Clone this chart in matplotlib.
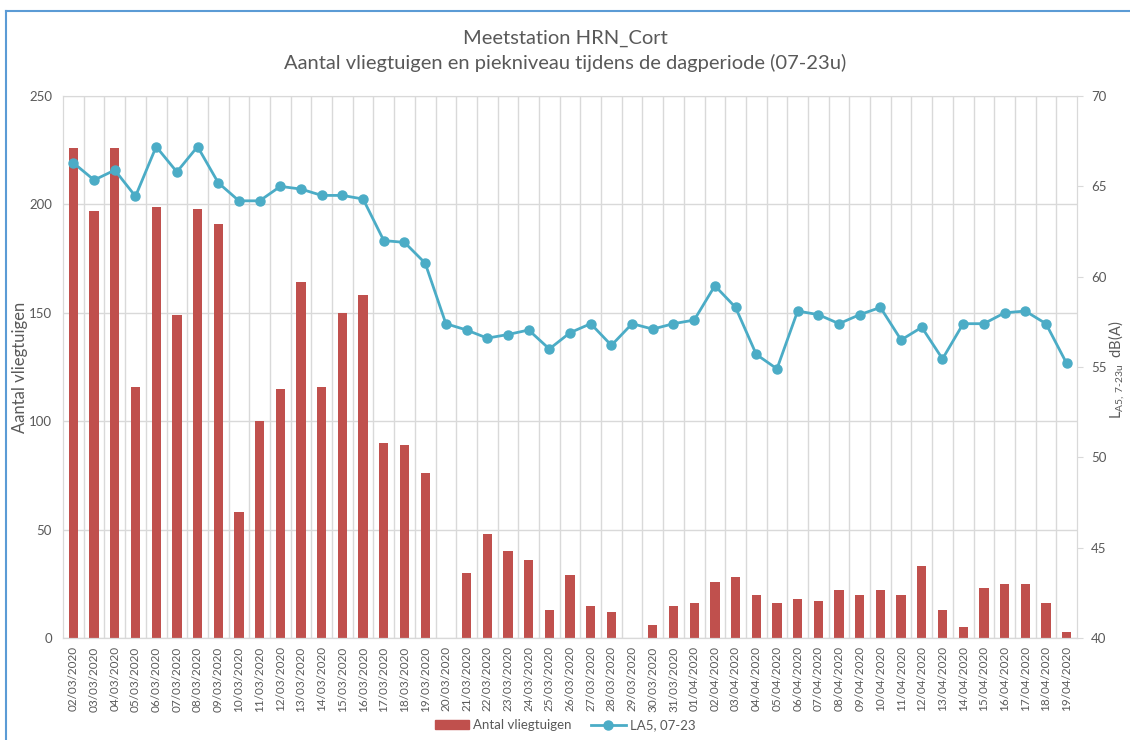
#!/usr/bin/env python3
"""
Meetstation HRN_Cort: aantal vliegtuigen (staven) en LA5 piekniveau (lijn)
tijdens de dagperiode, 02/03/2020 - 19/04/2020.
"""
import matplotlib
matplotlib.use("Agg")
import matplotlib.pyplot as plt
from matplotlib.lines import Line2D

plt.rcParams["font.family"] = ["Lato", "DejaVu Sans"]
plt.rcParams["mathtext.fontset"] = "custom"
plt.rcParams["mathtext.rm"] = "Lato"

# data
dates = ["02/03/2020", "03/03/2020", "04/03/2020", "05/03/2020", "06/03/2020",
         "07/03/2020", "08/03/2020", "09/03/2020", "10/03/2020", "11/03/2020",
         "12/03/2020", "13/03/2020", "14/03/2020", "15/03/2020", "16/03/2020",
         "17/03/2020", "18/03/2020", "19/03/2020", "20/03/2020", "21/03/2020",
         "22/03/2020", "23/03/2020", "24/03/2020", "25/03/2020", "26/03/2020",
         "27/03/2020", "28/03/2020", "29/03/2020", "30/03/2020", "31/03/2020",
         "01/04/2020", "02/04/2020", "03/04/2020", "04/04/2020", "05/04/2020",
         "06/04/2020", "07/04/2020", "08/04/2020", "09/04/2020", "10/04/2020",
         "11/04/2020", "12/04/2020", "13/04/2020", "14/04/2020", "15/04/2020",
         "16/04/2020", "17/04/2020", "18/04/2020", "19/04/2020"]

aantal = [226, 197, 226, 116, 199, 149, 198, 191, 58, 100,
          115, 164, 116, 150, 158, 90, 89, 76, 0, 30,
          48, 40, 36, 13, 29, 15, 12, 0, 6, 15,
          16, 26, 28, 20, 16, 18, 17, 22, 20, 22,
          20, 33, 13, 5, 23, 25, 25, 16, 3]

la5 = [66.3, 65.35, 65.9, 64.45, 67.2, 65.8, 67.2, 65.2, 64.2, 64.2,
       65.0, 64.85, 64.5, 64.5, 64.3, 62.0, 61.9, 60.75, 57.4, 57.05,
       56.6, 56.8, 57.05, 56.0, 56.9, 57.4, 56.2, 57.4, 57.1, 57.4,
       57.6, 59.5, 58.3, 55.7, 54.9, 58.1, 57.9, 57.4, 57.9, 58.3,
       56.5, 57.2, 55.45, 57.4, 57.4, 58.0, 58.1, 57.4, 55.2]

left_ticks = [0, 50, 100, 150, 200, 250]
right_ticks = [40, 45, 50, 55, 60, 65, 70]

RED = "#C0504D"
BLUE = "#4BACC6"
GRID = "#D9D9D9"
TXT = "#595959"

fig = plt.figure(figsize=(11.3, 7.4), dpi=100)
ax = fig.add_axes([0.0558, 0.1378, 0.8973, 0.7324])
ax2 = ax.twinx()

x = list(range(len(dates)))
ax.bar(x, aantal, width=0.45, color=RED, zorder=2)
ax.set_xlim(-0.5, len(dates) - 0.5)
ax.set_ylim(0, 250)
ax.set_yticks(left_ticks)
ax.set_xticks(x)
ax.set_xticklabels(dates, rotation=90, fontsize=8.5, color=TXT)
ax.set_xticks([i + 0.5 for i in x[:-1]], minor=True)
ax.tick_params(axis="x", which="both", length=0, pad=6)
ax.tick_params(axis="y", length=0, labelsize=9.5, labelcolor=TXT, pad=8)
ax.grid(axis="y", color=GRID, lw=1, zorder=0)
ax.grid(axis="x", which="minor", color=GRID, lw=1, zorder=0)
ax.set_axisbelow(True)
ax.set_ylabel("Aantal vliegtuigen", fontsize=12, color=TXT, va="center")
ax.yaxis.set_label_coords(-0.042, 0.5)

ax2.plot(x, la5, color=BLUE, lw=2, marker="o", markersize=6.5, zorder=3)
ax2.set_ylim(40, 70)
ax2.set_yticks(right_ticks)
ax2.tick_params(axis="y", length=4, color=GRID, labelsize=9.5,
                labelcolor=TXT, pad=6)
ax2.set_ylabel(r"L$_{\mathrm{A5,\,7\text{-}23u}}$  dB(A)", fontsize=10.5,
               color=TXT, va="center")
ax2.yaxis.set_label_coords(1.0395, 0.495)

for a in (ax, ax2):
    for side in ("top", "left", "bottom", "right"):
        a.spines[side].set_color(GRID)
ax2.spines["top"].set_visible(False)

fig.text(0.5, 0.948, "Meetstation HRN_Cort", ha="center", va="center",
         fontsize=14.5, color=TXT)
fig.text(0.5, 0.915, "Aantal vliegtuigen en piekniveau tijdens de dagperiode (07-23u)",
         ha="center", va="center", fontsize=14.5, color=TXT)

handles = [plt.Rectangle((0, 0), 1, 1, color=RED),
           Line2D([], [], color=BLUE, lw=2, marker="o", markersize=6.5)]
fig.legend(handles, ["Antal vliegtuigen", "LA5, 07-23"], loc="center",
           bbox_to_anchor=(0.5, 0.02), ncol=2, frameon=False, fontsize=9.5,
           labelcolor=TXT, handlelength=2.6, columnspacing=1.5,
           handletextpad=0.3)

# blauwe rand van de schermafdruk
fig.add_artist(Line2D([0.0049, 0.0049], [0.0, 0.985], color="#5B9BD5", lw=1.5))
fig.add_artist(Line2D([0.0049, 1.0], [0.985, 0.985], color="#5B9BD5", lw=1.5))

fig.savefig("out.png", dpi=100)
